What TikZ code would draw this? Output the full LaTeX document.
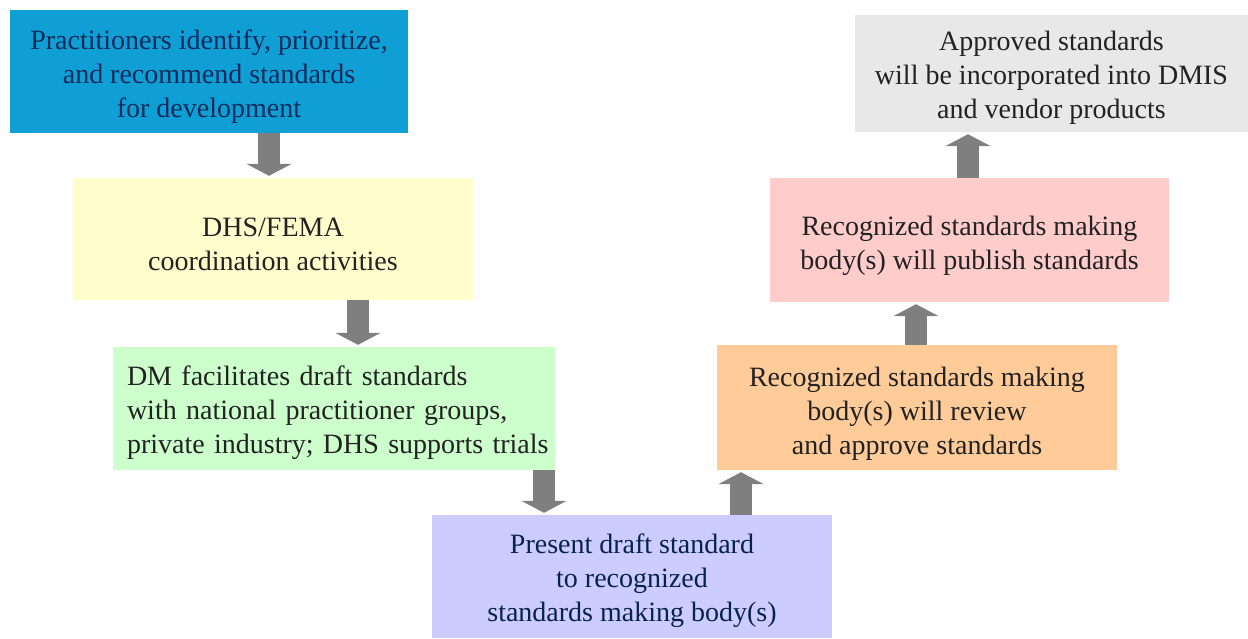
\documentclass[tikz,border=0pt]{standalone}
\usepackage{fontspec}
\setmainfont{Liberation Serif}
\usetikzlibrary{arrows.meta}
\definecolor{cblue}{HTML}{0F9FD4}
\definecolor{cyellow}{HTML}{FFFDCC}
\definecolor{cgreen}{HTML}{CCFFCC}
\definecolor{cpurple}{HTML}{CCCCFF}
\definecolor{corange}{HTML}{FFCC99}
\definecolor{cpink}{HTML}{FFCCCC}
\definecolor{cgray}{HTML}{E8E8E8}
\definecolor{navy}{HTML}{0B2A5C}
\definecolor{txt}{HTML}{222222}
\definecolor{arrowgray}{HTML}{7F7F7F}
\tikzset{
  box/.style={draw=none, inner sep=0pt},
  lbl/.style={inner sep=0pt, align=center, text=txt,
    font=\fontsize{28}{34}\selectfont},
  blk/.style={draw=arrowgray, line width=22pt,
    -{Triangle[width=45pt,length=12pt]}, shorten >=2pt},
}
\begin{document}
\begin{tikzpicture}[x=1pt,y=-1pt]
\useasboundingbox (0,0) rectangle (1248,638);
\node[box, fill=cblue, minimum width=398pt, minimum height=123pt] (b1) at (209,71.5) {};
\node[box, fill=cyellow, minimum width=400pt, minimum height=122pt] (b2) at (273,239) {};
\node[box, fill=cgreen, minimum width=442pt, minimum height=123pt] (b3) at (334,408.5) {};
\node[box, fill=cpurple, minimum width=400pt, minimum height=123pt] (b4) at (632,576.5) {};
\node[box, fill=corange, minimum width=400pt, minimum height=125pt] (b5) at (917,407.5) {};
\node[box, fill=cpink, minimum width=399pt, minimum height=124pt] (b6) at (969.5,240) {};
\node[box, fill=cgray, minimum width=393pt, minimum height=117pt] (b7) at (1051.5,73.5) {};
\node[lbl, text=navy] (t1) at ([yshift=-5pt]b1.center)
  {Practitioners identify, prioritize,\\and recommend standards\\for development};
\node[lbl] (t2) at ([yshift=-5pt]b2.center)
  {DHS/FEMA\\coordination activities};
\node[lbl, text width=414pt, align=left] (t3) at ([yshift=-4pt]b3.center)
  {\mbox{DM facilitates draft standards}\\\mbox{with national practitioner groups,}\\\mbox{private industry; DHS supports trials}};
\node[lbl, text=navy!80!black] (t4) at ([yshift=-4pt]b4.center)
  {Present draft standard\\to recognized\\standards making body(s)};
\node[lbl] (t5) at ([yshift=-6pt]b5.center)
  {Recognized standards making\\body(s) will review\\and approve standards};
\node[lbl] (t6) at ([yshift=-6pt]b6.center)
  {Recognized standards making\\body(s) will publish standards};
\node[lbl] (t7) at ([yshift=-4pt]b7.center)
  {Approved standards\\will be incorporated into DMIS\\and vendor products};
\coordinate (x1) at (269,0);
\coordinate (x2) at (358,0);
\coordinate (x3) at (544,0);
\coordinate (x4) at (741,0);
\coordinate (x5) at (916,0);
\coordinate (x6) at (968,0);
\draw[blk] (x1 |- b1.south) -- (x1 |- b2.north);
\draw[blk] (x2 |- b2.south) -- (x2 |- b3.north);
\draw[blk] (x3 |- b3.south) -- (x3 |- b4.north);
\draw[blk] (x4 |- b4.north) -- (x4 |- b5.south);
\draw[blk] (x5 |- b5.north) -- (x5 |- b6.south);
\draw[blk] (x6 |- b6.north) -- (x6 |- b7.south);
\end{tikzpicture}
\end{document}
